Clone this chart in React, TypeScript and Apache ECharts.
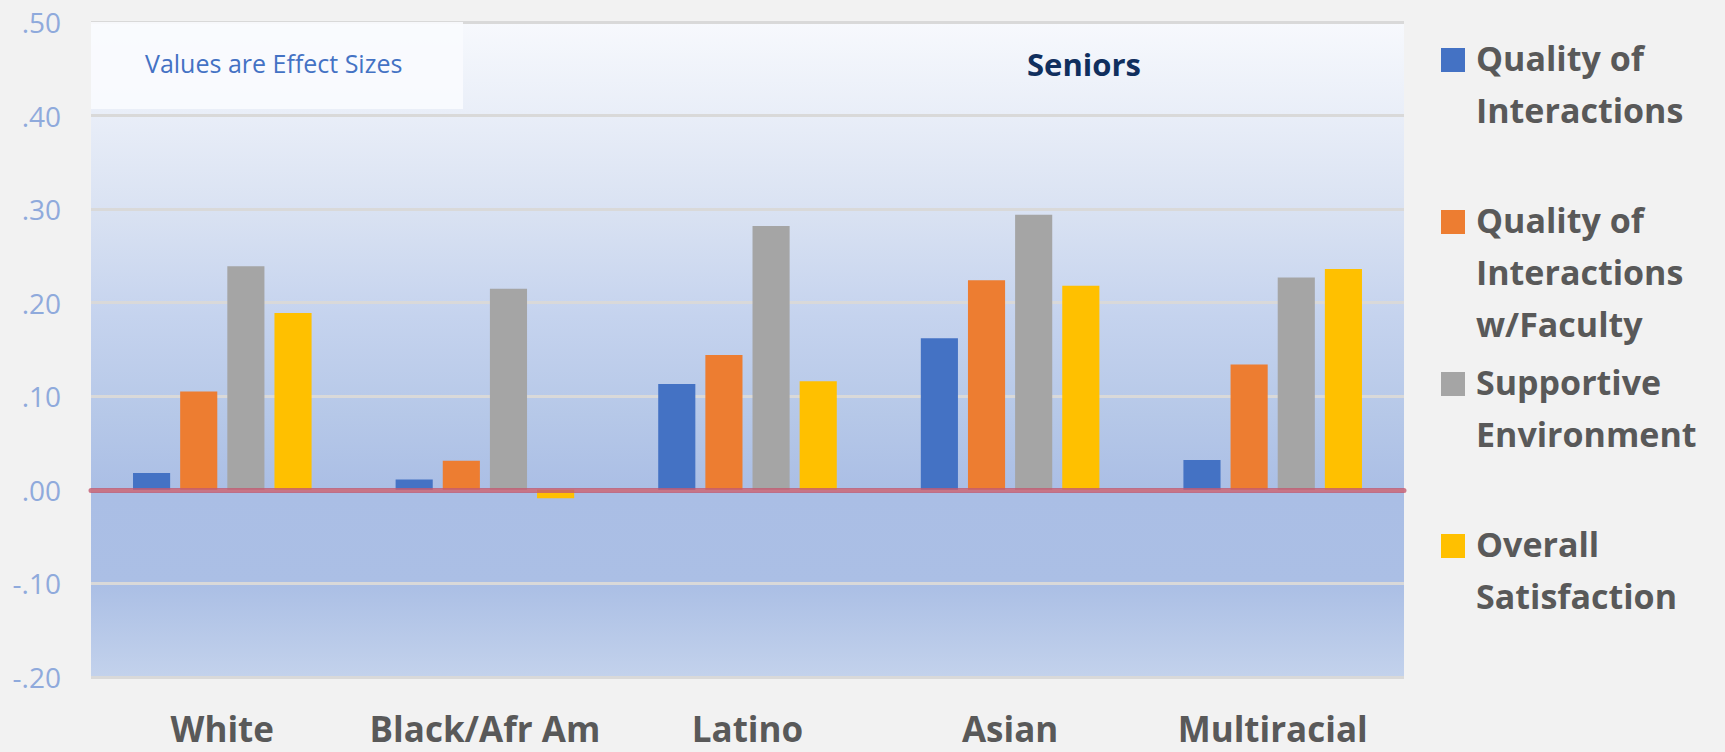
import React, { useEffect, useRef } from "react";
import * as echarts from "echarts";

const categories = ["White", "Black/Afr Am", "Latino", "Asian", "Multiracial"];
const seriesNames = [
  "Quality of Interactions",
  "Quality of Interactions w/Faculty",
  "Supportive Environment",
  "Overall Satisfaction",
];
const legendLines = [
  ["Quality of", "Interactions"],
  ["Quality of", "Interactions", "w/Faculty"],
  ["Supportive", "Environment"],
  ["Overall", "Satisfaction"],
];
const qualityInteractions = [0.018, 0.011, 0.113, 0.162, 0.032];
const qualityFaculty = [0.105, 0.031, 0.144, 0.224, 0.134];
const supportiveEnv = [0.239, 0.215, 0.282, 0.294, 0.227];
const overallSatisfaction = [0.189, -0.009, 0.116, 0.218, 0.236];
const seriesValues = [qualityInteractions, qualityFaculty, supportiveEnv, overallSatisfaction];
const colors = ["#4472c4", "#ed7d31", "#a5a5a5", "#ffc000"];
const yMin = -0.2;
const yMax = 0.5;
const yStep = 0.1;

const fmt = (v: number) => {
  const s = Math.abs(v).toFixed(2).replace(/^0/, "");
  return (v < -1e-9 ? "-" : "") + s;
};

export default function App() {
  const ref = useRef<HTMLDivElement>(null);
  useEffect(() => {
    document.body.style.margin = "0";
    const chart = echarts.init(ref.current!, null, { renderer: "svg" });
    const squareTops = [48, 210, 372, 534];
    const legendGraphics: any[] = [];
    legendLines.forEach((lines, i) => {
      legendGraphics.push({
        type: "rect",
        left: 1441,
        top: squareTops[i],
        shape: { width: 24, height: 24 },
        style: { fill: colors[i] },
      });
      legendGraphics.push({
        type: "text",
        left: 1476,
        top: squareTops[i] - 16,
        style: {
          text: lines.join("\n"),
          font: "bold 34px 'Open Sans'",
          lineHeight: 52,
          fill: "#595959",
        },
      });
    });
    chart.setOption({
      animation: false,
      backgroundColor: "#f2f2f2",
      grid: {
        left: 91,
        right: 321,
        top: 22,
        bottom: 75,
        show: true,
        borderWidth: 0,
        backgroundColor: {
          type: "linear",
          x: 0,
          y: 0,
          x2: 0,
          y2: 1,
          colorStops: [
            { offset: 0, color: "#f7f9fd" },
            { offset: 0.14, color: "#e9eef8" },
            { offset: 0.3, color: "#d8e1f2" },
            { offset: 0.45, color: "#c5d3ee" },
            { offset: 0.6, color: "#b6c8e8" },
            { offset: 0.72, color: "#aabee5" },
            { offset: 0.86, color: "#abbfe5" },
            { offset: 1, color: "#c3d2ec" },
          ],
        },
      },
      xAxis: {
        type: "category",
        data: categories,
        z: 5,
        axisLine: {
          show: true,
          onZero: true,
          lineStyle: { color: "#c25a70", width: 5, opacity: 0.8, type: [3, 1] },
        },
        axisTick: { show: false },
        axisLabel: {
          margin: 34,
          fontFamily: "'Open Sans'",
          fontWeight: "bold",
          fontSize: 35,
          color: "#595959",
          interval: 0,
        },
      },
      yAxis: {
        type: "value",
        min: yMin,
        max: yMax,
        interval: yStep,
        axisLine: { show: false },
        axisTick: { show: false },
        splitLine: { show: true, lineStyle: { color: "#d9d9d9", width: 3 } },
        axisLabel: {
          margin: 30,
          fontFamily: "'Open Sans'",
          fontSize: 28,
          color: "#8faadc",
          formatter: (v: number) => fmt(v),
        },
      },
      series: seriesNames.map((name, i) => ({
        name,
        type: "bar",
        data: seriesValues[i],
        barGap: "27%",
        barCategoryGap: "32%",
        itemStyle: { color: colors[i] },
        z: 2,
      })),
      graphic: [
        {
          type: "rect",
          left: 91,
          top: 22,
          shape: { width: 372, height: 87 },
          style: { fill: "rgba(250,251,254,0.9)" },
          z: 10,
        },
        {
          type: "text",
          left: 145,
          top: 50,
          style: {
            text: "Values are Effect Sizes",
            font: "25px 'Open Sans'",
            fill: "#4472c4",
          },
          z: 11,
        },
        {
          type: "text",
          left: 1027,
          top: 48,
          style: {
            text: "Seniors",
            font: "bold 31px 'Open Sans'",
            fill: "#102f5e",
          },
          z: 11,
        },
        ...legendGraphics,
      ],
    });
    return () => chart.dispose();
  }, []);
  return <div ref={ref} style={{ width: 1725, height: 752 }} />;
}
